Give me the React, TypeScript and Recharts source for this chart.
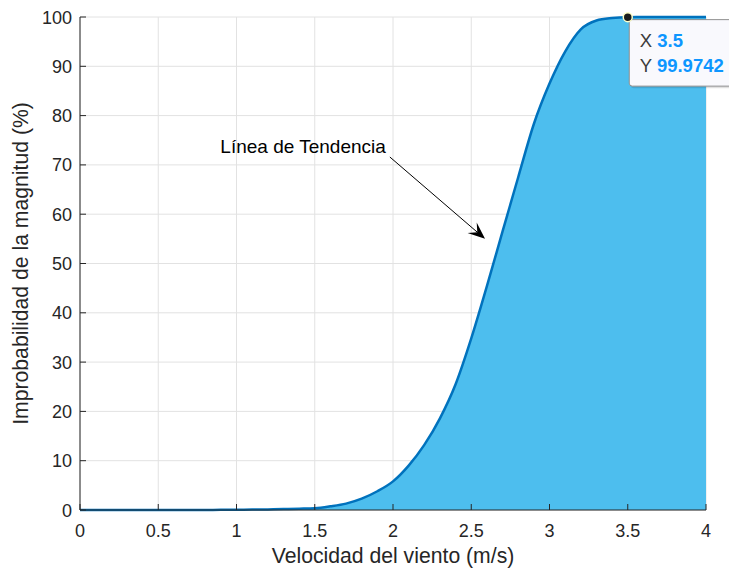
import { AreaChart, Area, XAxis, YAxis, CartesianGrid, ReferenceDot, ReferenceLine } from 'recharts';

// wind speed (m/s) and improbability of the magnitude (%)
const speed = [
  0, 0.1, 0.2, 0.3, 0.4, 0.5, 0.6, 0.7, 0.8, 0.9,
  1, 1.1, 1.2, 1.3, 1.4, 1.5, 1.6, 1.7, 1.8, 1.9,
  2, 2.1, 2.2, 2.3, 2.4, 2.5, 2.6, 2.7, 2.8, 2.9,
  3, 3.1, 3.2, 3.3, 3.4, 3.5, 3.6, 3.7, 3.8, 3.9, 4,
];
const improbability = [
  0, 0, 0, 0, 0, 0, 0.01, 0.01, 0.02, 0.03,
  0.05, 0.08, 0.12, 0.18, 0.26, 0.36, 0.75, 1.3, 2.3, 3.8,
  5.8, 9.0, 13.2, 18.6, 25.5, 34.8, 45.4, 56.5, 67.5, 78.3,
  86.5, 93.0, 97.5, 99.3, 99.8, 99.9742, 99.995, 100, 100, 100, 100,
];

const xTicks = [0, 0.5, 1, 1.5, 2, 2.5, 3, 3.5, 4];
const yTicks = [0, 10, 20, 30, 40, 50, 60, 70, 80, 90, 100];

const tipPoint = { x: 3.5, y: 99.9742 };
const noteFrom = { x: 1.98, y: 71.6 };
const noteTo = { x: 2.588, y: 55.0 };
const noteText = 'Línea de Tendencia';

const data = speed.map((v, i) => ({ v, p: improbability[i] }));

const FONT = '"Liberation Sans", Arial, Helvetica, sans-serif';
const INK = '#262626';
const TICK_LEN = 6;

function BottomTick({ x, y, payload }: any) {
  return (
    <g>
      <line x1={x} x2={x} y1={y - 10} y2={y - 10 - TICK_LEN} stroke={INK} />
      <text x={x} y={y} dy={17} textAnchor="middle" fontSize={18} fill={INK} fontFamily={FONT}>
        {payload.value}
      </text>
    </g>
  );
}

function TopTick({ x, y }: any) {
  return <line x1={x} x2={x} y1={y} y2={y + TICK_LEN} stroke={INK} />;
}

function LeftTick({ x, y, payload }: any) {
  return (
    <g>
      <line x1={x + 8} x2={x + 8 + TICK_LEN} y1={y} y2={y} stroke={INK} />
      <text x={x} y={y} dy={6.5} textAnchor="end" fontSize={18} fill={INK} fontFamily={FONT}>
        {payload.value}
      </text>
    </g>
  );
}

function RightTick({ x, y }: any) {
  return <line x1={x} x2={x - TICK_LEN} y1={y} y2={y} stroke={INK} />;
}

function NoteArrow({ x1, y1, x2, y2 }: any) {
  const dx = x2 - x1;
  const dy = y2 - y1;
  const len = Math.hypot(dx, dy) || 1;
  const ux = dx / len;
  const uy = dy / len;
  const nx = -uy;
  const ny = ux;
  const hl = 17;
  const hw = 7;
  const bx = x2 - ux * hl;
  const by = y2 - uy * hl;
  const notchX = x2 - ux * hl * 0.6;
  const notchY = y2 - uy * hl * 0.6;
  const head = `${x2},${y2} ${bx + nx * hw},${by + ny * hw} ${notchX},${notchY} ${bx - nx * hw},${by - ny * hw}`;
  return (
    <g>
      <line x1={x1} y1={y1} x2={notchX} y2={notchY} stroke="#000" strokeWidth={1} />
      <polygon points={head} fill="#000" />
      <text x={x1 - 4} y={y1 - 4} textAnchor="end" fontSize={19} fill="#000" fontFamily={FONT}>
        {noteText}
      </text>
    </g>
  );
}

function DataTip({ cx, cy }: any) {
  return (
    <g>
      <rect x={cx + 3} y={cy + 4} width={120} height={67} rx={3} fill="#000" opacity={0.12} />
      <rect x={cx + 1.5} y={cy + 2.5} width={120} height={66.5} rx={3} fill="#f9f9fd" stroke="#8f8f8f" />
      <text x={cx + 12} y={cy + 30} fontSize={18.5} fontFamily={FONT} fill="#3c3c3c">
        X <tspan fill="#0d96ff" fontWeight="bold">{tipPoint.x}</tspan>
      </text>
      <text x={cx + 12} y={cy + 55} fontSize={18.5} fontFamily={FONT} fill="#3c3c3c">
        Y <tspan fill="#0d96ff" fontWeight="bold">{tipPoint.y}</tspan>
      </text>
      <circle cx={cx} cy={cy} r={4.5} fill="#1c1c1c" stroke="#ffffc8" strokeWidth={1.5} />
    </g>
  );
}

export default function App() {
  return (
    <div style={{ position: 'absolute', left: 0, top: 0, width: 729, height: 571, background: '#fff' }}>
      <AreaChart width={729} height={571} data={data} margin={{ top: 17, right: 23, bottom: 0, left: 0 }}>
        <CartesianGrid stroke="#e2e2e2" />
        <Area
          type="monotone"
          dataKey="p"
          stroke="#0072BD"
          strokeWidth={2.5}
          fill="#4DBEEE"
          fillOpacity={1}
          dot={false}
          activeDot={false}
          isAnimationActive={false}
        />
        <XAxis
          dataKey="v"
          type="number"
          domain={[0, 4]}
          ticks={xTicks}
          interval={0}
          height={61}
          tickSize={0}
          tickMargin={10}
          tickLine={false}
          tick={BottomTick}
          axisLine={{ stroke: INK }}
          label={{ value: 'Velocidad del viento (m/s)', position: 'insideBottom', offset: 8, fontSize: 21.2, fill: INK, fontFamily: FONT }}
        />
        <XAxis
          xAxisId="top"
          orientation="top"
          dataKey="v"
          type="number"
          domain={[0, 4]}
          ticks={xTicks}
          interval={0}
          height={0}
          tickSize={0}
          tickMargin={0}
          tickLine={false}
          tick={TopTick}
          axisLine={{ stroke: INK }}
        />
        <YAxis
          type="number"
          domain={[0, 100]}
          ticks={yTicks}
          interval={0}
          width={80}
          tickSize={0}
          tickMargin={8}
          tickLine={false}
          tick={LeftTick}
          axisLine={{ stroke: INK }}
          label={{
            value: 'Improbabilidad de la magnitud (%)',
            angle: -90,
            position: 'insideLeft',
            offset: 20,
            fontSize: 21.2,
            fill: INK,
            fontFamily: FONT,
            style: { textAnchor: 'middle' },
          }}
        />
        <YAxis
          yAxisId="right"
          orientation="right"
          type="number"
          dataKey="p"
          domain={[0, 100]}
          ticks={yTicks}
          interval={0}
          width={0}
          tickSize={0}
          tickMargin={0}
          tickLine={false}
          tick={RightTick}
          axisLine={{ stroke: INK }}
        />
        <ReferenceLine segment={[noteFrom, noteTo]} shape={NoteArrow} />
        <ReferenceDot x={tipPoint.x} y={tipPoint.y} r={4.5} shape={DataTip} />
      </AreaChart>
    </div>
  );
}
